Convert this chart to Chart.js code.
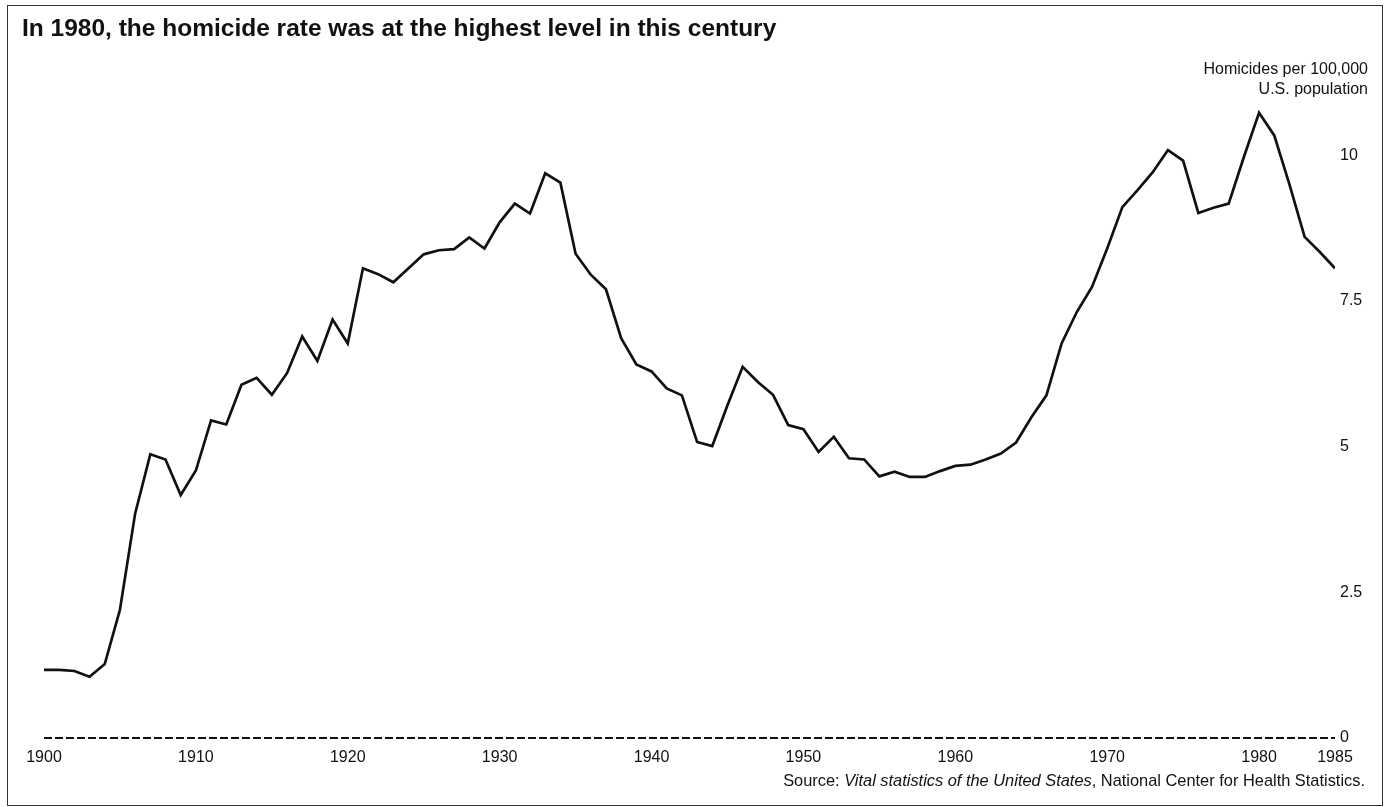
<!DOCTYPE html>
<html>
<head>
<meta charset="utf-8">
<title>Homicide rate 1900-1985</title>
<script src="https://cdn.jsdelivr.net/npm/chart.js@4.4.0/dist/chart.umd.min.js"></script>
<style>
  body { margin: 0; background: #fff; font-family: "Liberation Sans", Arial, Helvetica, sans-serif; color: #111; }
  #page { position: absolute; left: 0; top: 0; width: 1388px; height: 807px; overflow: hidden; }
  #frame { position: absolute; left: 7px; top: 5px; width: 1376px; height: 801px; border: 1.5px solid #333; box-sizing: border-box; }
  #chartBox { position: absolute; left: 0; top: 0; width: 1388px; height: 807px; }
  #title { position: absolute; left: 22px; top: 16px; font-size: 24.5px; line-height: 24px; font-weight: bold; white-space: nowrap; }
  #yTitle { position: absolute; right: 20px; top: 59px; font-size: 16px; line-height: 20px; text-align: right; white-space: nowrap; }
  #source { position: absolute; right: 23px; top: 772px; font-size: 16.4px; line-height: 16px; white-space: nowrap; }
</style>
</head>
<body>
<div id="page">
  <div id="frame"></div>
  <div id="chartBox"><canvas id="homicideChart"></canvas></div>
  <div id="title">In 1980, the homicide rate was at the highest level in this century</div>
  <div id="yTitle">Homicides per 100,000<br>U.S. population</div>
  <div id="source">Source: <i>Vital statistics of the United States</i>, National Center for Health Statistics.</div>
</div>
<script>
// Data (homicides per 100,000 population)
const years = [
  1900, 1901, 1902, 1903, 1904, 1905, 1906, 1907, 1908, 1909,
  1910, 1911, 1912, 1913, 1914, 1915, 1916, 1917, 1918, 1919,
  1920, 1921, 1922, 1923, 1924, 1925, 1926, 1927, 1928, 1929,
  1930, 1931, 1932, 1933, 1934, 1935, 1936, 1937, 1938, 1939,
  1940, 1941, 1942, 1943, 1944, 1945, 1946, 1947, 1948, 1949,
  1950, 1951, 1952, 1953, 1954, 1955, 1956, 1957, 1958, 1959,
  1960, 1961, 1962, 1963, 1964, 1965, 1966, 1967, 1968, 1969,
  1970, 1971, 1972, 1973, 1974, 1975, 1976, 1977, 1978, 1979,
  1980, 1981, 1982, 1983, 1984, 1985
];
const homicideRate = [
  1.17, 1.17, 1.15, 1.05, 1.27, 2.2, 3.85, 4.87, 4.78, 4.17,
  4.59, 5.45, 5.38, 6.06, 6.18, 5.89, 6.26, 6.89, 6.47, 7.18,
  6.77, 8.06, 7.96, 7.82, 8.06, 8.30, 8.37, 8.39, 8.59, 8.40,
  8.85, 9.17, 9.00, 9.69, 9.53, 8.31, 7.95, 7.70, 6.86, 6.41,
  6.29, 6.00, 5.88, 5.08, 5.01, 5.71, 6.37, 6.11, 5.89, 5.37,
  5.30, 4.91, 5.17, 4.80, 4.78, 4.49, 4.57, 4.48, 4.48, 4.58,
  4.67, 4.69, 4.78, 4.88, 5.07, 5.50, 5.88, 6.77, 7.31, 7.74,
  8.40, 9.11, 9.40, 9.71, 10.09, 9.91, 9.01, 9.10, 9.17, 9.97,
  10.73, 10.34, 9.50, 8.60, 8.34, 8.06
];
const xTickValues = [1900, 1910, 1920, 1930, 1940, 1950, 1960, 1970, 1980, 1985];
const yTickValues = [0, 2.5, 5, 7.5, 10];

const tickFont = { family: '"Liberation Sans", Arial, Helvetica, sans-serif', size: 16 };

const ctx = document.getElementById('homicideChart').getContext('2d');
const homicideChart = new Chart(ctx, {
  type: 'line',
  data: {
    datasets: [{
      data: years.map((y, i) => ({ x: y, y: homicideRate[i] })),
      borderColor: '#111',
      borderWidth: 2.7,
      pointRadius: 0,
      tension: 0,
      fill: false
    }]
  },
  options: {
    responsive: true,
    maintainAspectRatio: false,
    animation: false,
    layout: { padding: { left: 44, top: 97, right: 0, bottom: 0 } },
    plugins: { legend: { display: false }, tooltip: { enabled: false } },
    scales: {
      x: {
        type: 'linear',
        min: 1900,
        max: 1985,
        grid: { display: false },
        border: { display: false },
        afterBuildTicks: (scale) => { scale.ticks = xTickValues.map(v => ({ value: v })); },
        afterFit: (scale) => { scale.height = 69; },
        ticks: {
          color: '#111',
          font: tickFont,
          padding: 2,
          maxRotation: 0,
          autoSkip: false,
          callback: (v) => String(v)
        }
      },
      y: {
        position: 'right',
        min: 0,
        max: 11,
        // only the zero line is drawn, dashed, as the baseline
        grid: {
          display: true,
          drawTicks: false,
          lineWidth: 2,
          color: (c) => (c.tick && c.tick.value === 0 ? '#111' : 'rgba(0,0,0,0)')
        },
        border: { display: false, dash: [8, 3] },
        afterBuildTicks: (scale) => { scale.ticks = yTickValues.map(v => ({ value: v })); },
        afterFit: (scale) => { scale.width = 53; },
        ticks: {
          color: '#111',
          font: tickFont,
          padding: 5,
          callback: (v) => String(v)
        }
      }
    }
  }
});
</script>
</body>
</html>
